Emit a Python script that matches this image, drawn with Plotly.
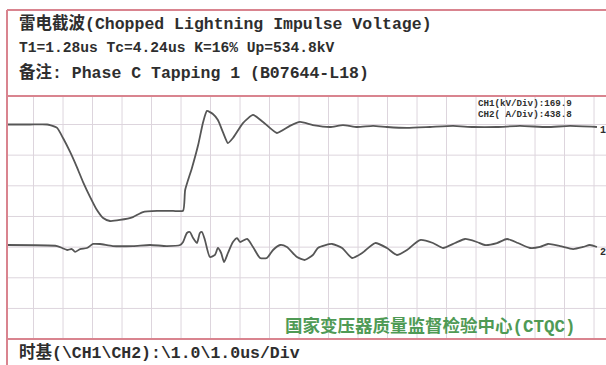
import plotly.graph_objects as go

# ---- test record ----
TITLE_CN = "雷电截波"
TITLE_EN = "Chopped Lightning Impulse Voltage"
T1_US = 1.28
TC_US = 4.24
K_PCT = 16
UP_KV = 534.8
REMARK = "Phase C Tapping 1 (B07644-L18)"
CH1_KV_DIV = 169.9
CH2_A_DIV = 438.8
TIME_DIV = "\\1.0\\1.0us/Div"
LAB = "国家变压器质量监督检验中心(CTQC)"

# ---- CH1: voltage (kV) vs time (us) ----
ch1_t = [-1.73, -0.95, -0.37, -0.27, -0.03, 0.17, 0.41, 0.64, 0.85, 1.09, 1.32, 1.53,
         1.76, 2.10, 2.54, 2.88, 3.36, 3.90, 4.24, 4.31, 4.54, 4.75, 4.92, 5.05, 5.25,
         5.42, 5.59, 5.76, 5.93, 6.27, 6.61, 6.95, 7.42, 7.86, 8.20, 8.64, 9.22, 9.66,
         10.14, 10.68, 11.15, 11.83, 12.61, 13.39, 14.07, 14.88, 15.66, 16.58, 17.36, 18.27]
ch1_kv = [0, 0, 0, -3, -19, -75, -152, -236, -319, -402, -474, -518,
          -534.8, -529, -513, -485, -479, -479, -478, -363, -241, -114, 14, 75, 58,
          25, -42, -103, -75, 8, 53, 14, -47, -8, 14, -3, -14, -3,
          -14, -8, -14, -19, -14, -8, -14, -14, -8, -14, -8, -14]

# ---- CH2: current (A) vs time (us) ----
ch2_t = [-1.73, -0.03, 0.14, 0.31, 0.47, 0.58, 0.75, 0.98, 1.19, 1.42, 1.86, 2.54, 3.12,
         3.69, 4.14, 4.24, 4.37, 4.47, 4.58, 4.71, 4.81, 4.88, 4.98, 5.15, 5.32, 5.42,
         5.53, 5.63, 5.76, 5.93, 6.07, 6.17, 6.41, 6.61, 6.85, 7.08, 7.29, 7.53, 7.76,
         8.10, 8.37, 8.64, 8.81, 9.29, 9.63, 9.97, 10.31, 10.75, 11.15, 11.49, 11.83,
         12.27, 12.71, 13.05, 13.46, 13.80, 14.20, 14.47, 14.88, 15.22, 15.59, 16.00,
         16.34, 16.61, 17.02, 17.46, 17.80, 18.03, 18.27]
ch2_a = [0, -15, -44, -73, -59, -102, -59, -44, 15, 15, -15, -15, 0,
         -15, 0, 44, 176, 190, 102, 29, 176, 190, 73, -176, -146, -44,
         -117, -249, -117, 44, 102, 44, 88, -29, -190, -190, -73, 0, -29,
         -176, -219, -146, -44, 15, -44, -190, -117, 29, -44, -146, -73,
         73, 29, -44, 29, 88, 44, 0, 29, 88, 29, -44,
         -29, 15, -15, -59, -29, 0, -29]

W, H = 606, 365
TRACE = "#565656"
FRAME = "#d9848f"
GRID = "#ddd5dd"
MONO = "Liberation Mono, Noto Sans CJK SC, monospace"

X_RANGE = [-1.729, 18.576]
Y1_RANGE = [-1188.7, 157.9]
Y2_RANGE = [-1374.9, 2179.4]
GRID_T0 = 0.17


def px(x):
    return x / W


def py(y):
    return 1 - y / H


fig = go.Figure()
fig.add_trace(go.Scatter(x=ch1_t, y=ch1_kv, mode="lines", yaxis="y",
                         line=dict(color=TRACE, width=1.8, shape="spline", smoothing=0.5),
                         hoverinfo="skip"))
fig.add_trace(go.Scatter(x=ch2_t, y=ch2_a, mode="lines", yaxis="y2",
                         line=dict(color=TRACE, width=1.8, shape="spline", smoothing=0.6),
                         hoverinfo="skip"))

y_dom = [py(339), py(96)]
fig.update_layout(
    width=W, height=H,
    margin=dict(l=0, r=0, t=0, b=0, pad=0),
    paper_bgcolor="white", plot_bgcolor="rgba(0,0,0,0)",
    showlegend=False,
    xaxis=dict(domain=[px(7), 1], range=X_RANGE, visible=False, fixedrange=True),
    yaxis=dict(domain=y_dom, range=Y1_RANGE, visible=False, fixedrange=True),
    yaxis2=dict(domain=y_dom, range=Y2_RANGE, overlaying="y", visible=False,
                fixedrange=True),
)

# screen divisions: 1 us across, one CH1 division down
k = int(X_RANGE[0] - GRID_T0)
while GRID_T0 + k <= X_RANGE[1]:
    t = GRID_T0 + k
    if t >= X_RANGE[0]:
        fig.add_shape(type="line", xref="x", yref="paper", x0=t, x1=t, y0=y_dom[0],
                      y1=y_dom[1], layer="below", line=dict(color=GRID, width=1))
    k += 1
k = int(Y1_RANGE[0] / CH1_KV_DIV) - 1
while k * CH1_KV_DIV <= Y1_RANGE[1]:
    v = k * CH1_KV_DIV
    if v >= Y1_RANGE[0]:
        fig.add_shape(type="line", xref="paper", yref="y", x0=px(7), x1=1, y0=v, y1=v,
                      layer="below", line=dict(color=GRID, width=1))
    k += 1

# frame
for y in (10, 96, 339):
    fig.add_shape(type="line", xref="paper", yref="paper", x0=px(7), x1=1, y0=py(y), y1=py(y),
                  line=dict(color=FRAME, width=2))
fig.add_shape(type="line", xref="paper", yref="paper", x0=px(7), x1=px(7), y0=py(10), y1=0,
              line=dict(color=FRAME, width=2))


def label(text, x, y, size, color="#2e2e2e", anchor="left"):
    fig.add_annotation(text=f"<b>{text}</b>", x=px(x), y=py(y), xref="paper", yref="paper",
                       xanchor=anchor, yanchor="middle", showarrow=False,
                       font=dict(family=MONO, size=size, color=color))


label(f"{TITLE_CN}({TITLE_EN})", 17, 24, 16.5)
label(f"T1={T1_US:.2f}us Tc={TC_US:.2f}us K={K_PCT}% Up={UP_KV:.1f}kV", 17, 48, 14.6)
label(f"备注: {REMARK}", 17, 73, 16.5)
label(f"CH1(kV/Div):{CH1_KV_DIV:.1f}", 476, 103, 9.2)
label(f"CH2( A/Div):{CH2_A_DIV:.1f}", 476, 114, 9.2)
label("1", 598, 130, 10)
label("2", 598, 252, 10)
label(LAB, 283, 326, 17.5, color="#4f9a55")
label(f"时基(\\CH1\\CH2):{TIME_DIV}", 17, 353, 16.5)

fig.write_html("out.html")
